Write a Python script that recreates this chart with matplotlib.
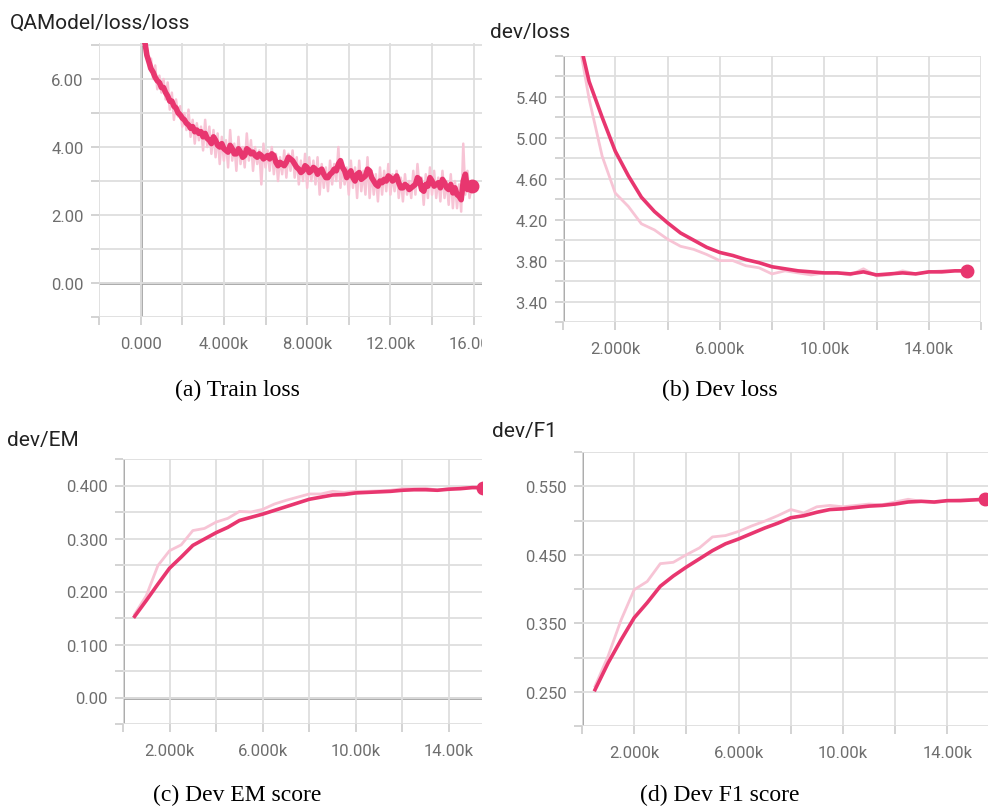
import numpy as np
from matplotlib import pyplot as plt
from matplotlib.transforms import Bbox, TransformedBbox

# ---- data ----
train_steps = list(range(200, 16000, 100))
train_raw = [7.2, 6.9, 6.3, 6.6, 6.0, 6.4, 5.7, 6.1, 5.6, 6.0,
             5.4, 5.9, 5.1, 5.6, 4.8, 5.4, 4.9, 5.2, 4.6, 5.0,
             4.5, 5.1, 4.3, 4.8, 4.1, 4.7, 4.2, 4.6, 3.9, 4.8,
             4.0, 4.6, 3.8, 4.5, 3.7, 4.4, 3.5, 4.3, 3.6, 4.2,
             3.4, 4.5, 3.6, 4.1, 3.3, 4.3, 3.5, 4.0, 3.4, 4.4,
             3.6, 4.2, 3.3, 4.0, 3.5, 3.9, 2.9, 4.1, 3.4, 3.9,
             3.3, 4.0, 3.2, 3.8, 3.0, 3.7, 3.2, 3.9, 3.1, 3.8,
             3.3, 3.9, 3.1, 3.7, 2.9, 3.6, 3.0, 3.8, 2.8, 3.7,
             3.0, 3.6, 2.9, 3.7, 2.6, 3.5, 2.8, 3.4, 2.7, 3.6,
             2.9, 3.5, 3.0, 4.0, 2.8, 3.5, 2.9, 3.4, 2.6, 3.6,
             2.8, 3.4, 2.5, 3.6, 2.7, 3.3, 2.6, 3.7, 2.5, 3.3,
             2.6, 3.2, 2.4, 3.4, 2.6, 3.3, 2.7, 3.5, 2.6, 3.2,
             2.7, 3.3, 2.5, 3.1, 2.4, 3.2, 2.6, 3.0, 2.5, 3.3,
             2.6, 3.5, 2.8, 3.1, 2.3, 3.2, 2.5, 3.4, 2.6, 3.3,
             2.5, 3.1, 2.4, 3.3, 2.5, 3.0, 2.3, 3.2, 2.2, 3.0,
             2.2, 2.9, 2.1, 4.1, 2.6, 3.3, 2.5, 2.85]
train_smooth = [7.1, 6.7, 6.5, 6.3, 6.2, 6.05, 5.95, 5.9, 5.75, 5.75,
                5.6, 5.5, 5.35, 5.35, 5.2, 5.15, 5.0, 4.95, 4.85, 4.8,
                4.7, 4.65, 4.55, 4.6, 4.45, 4.5, 4.4, 4.45, 4.3, 4.4,
                4.25, 4.2, 4.1, 4.3, 4.2, 4.05, 4.0, 4.1, 3.95, 3.9,
                3.85, 4.05, 3.95, 3.8, 3.8, 3.95, 3.85, 3.7, 3.75, 3.95,
                3.9, 3.8, 3.85, 3.75, 3.7, 3.8, 3.75, 3.65, 3.7, 3.75,
                3.65, 3.8, 3.75, 3.55, 3.45, 3.55, 3.5, 3.45, 3.55, 3.7,
                3.65, 3.6, 3.5, 3.4, 3.35, 3.25, 3.3, 3.45, 3.4, 3.25,
                3.3, 3.4, 3.35, 3.2, 3.3, 3.35, 3.2, 3.1, 3.1, 3.2,
                3.25, 3.35, 3.3, 3.5, 3.6, 3.4, 3.3, 3.1, 3.2, 3.3,
                3.1, 3.0, 3.2, 3.25, 3.05, 3.1, 3.15, 3.35, 3.3, 3.1,
                3.0, 2.9, 2.85, 3.0, 2.95, 3.05, 3.0, 3.15, 3.1, 3.0,
                3.05, 3.15, 2.95, 2.8, 2.8, 2.9, 2.85, 2.75, 2.8, 2.85,
                2.9, 3.1, 3.05, 2.75, 2.7, 2.9, 2.85, 3.1, 3.0, 2.85,
                2.9, 2.95, 2.8, 3.05, 2.95, 2.8, 2.75, 2.9, 2.65, 2.8,
                2.6, 2.55, 2.45, 3.0, 3.2, 2.75, 2.9, 2.85]

dev_steps = list(range(500, 15500, 500)) + [15450]

dev_loss_raw = [6.1, 5.38, 4.82, 4.46, 4.33, 4.16, 4.10, 4.01, 3.94, 3.91,
                3.86, 3.80, 3.80, 3.75, 3.73, 3.67, 3.70, 3.68, 3.66, 3.68,
                3.68, 3.66, 3.72, 3.65, 3.66, 3.70, 3.67, 3.69, 3.70, 3.70, 3.70]
dev_loss = [6.1, 5.55, 5.20, 4.87, 4.63, 4.42, 4.28, 4.17, 4.07, 4.00,
            3.93, 3.88, 3.85, 3.81, 3.78, 3.74, 3.72, 3.70, 3.69, 3.68,
            3.68, 3.67, 3.69, 3.66, 3.67, 3.68, 3.67, 3.69, 3.69, 3.70, 3.70]

dev_em_raw = [0.157, 0.192, 0.249, 0.277, 0.288, 0.315, 0.319, 0.331, 0.338, 0.351,
              0.350, 0.355, 0.365, 0.372, 0.378, 0.384, 0.384, 0.389, 0.387, 0.389,
              0.389, 0.390, 0.391, 0.394, 0.394, 0.395, 0.391, 0.394, 0.396, 0.396, 0.396]
dev_em = [0.153, 0.183, 0.214, 0.244, 0.265, 0.287, 0.299, 0.311, 0.321, 0.334,
          0.340, 0.346, 0.353, 0.360, 0.367, 0.374, 0.378, 0.382, 0.383, 0.386,
          0.387, 0.388, 0.389, 0.391, 0.392, 0.392, 0.391, 0.393, 0.394, 0.396, 0.396]

dev_f1_raw = [0.258, 0.302, 0.355, 0.399, 0.411, 0.437, 0.439, 0.450, 0.460, 0.476,
              0.478, 0.484, 0.492, 0.499, 0.507, 0.516, 0.511, 0.520, 0.522, 0.520,
              0.522, 0.524, 0.523, 0.527, 0.531, 0.528, 0.526, 0.529, 0.530, 0.531, 0.531]
dev_f1 = [0.253, 0.292, 0.326, 0.358, 0.380, 0.404, 0.419, 0.432, 0.444, 0.456,
          0.466, 0.473, 0.481, 0.489, 0.496, 0.504, 0.507, 0.512, 0.516, 0.517,
          0.519, 0.521, 0.522, 0.524, 0.527, 0.528, 0.527, 0.529, 0.529, 0.530, 0.531]

W, H = 988, 812
DARK = '#e8366f'
LIGHT = '#f7c4d5'
GRID = '#dedede'
AXIS = '#a3a3a3'
TICKLAB = '#6e6e6e'

fig = plt.figure(figsize=(W / 100, H / 100), dpi=100)


def panel(l, t, r, b):
    ax = fig.add_axes([l / W, 1 - b / H, (r - l) / W, (b - t) / H])
    for s in ax.spines.values():
        s.set_visible(False)
    ax.grid(True, color=GRID, lw=1.3, zorder=0)
    ax.tick_params(color='#d0d0d0', width=1.3, length=6, labelcolor=TICKLAB,
                   labelsize=12)
    ax.tick_params(axis='x', pad=8)
    ax.tick_params(axis='y', pad=5)
    return ax


def set_ticks(ax, xt, xl, yt, yl):
    ax.set_xticks(xt)
    ax.set_xticklabels(xl, family='Roboto')
    ax.set_yticks(yt)
    ax.set_yticklabels(yl, family='Roboto')


def title(x, y, s):
    fig.text(x / W, 1 - y / H, s, family='Roboto', fontsize=15, color='#222222',
             va='baseline')


def caption(x, y, s):
    fig.text(x / W, 1 - y / H, s, family='Liberation Serif', fontsize=17,
             color='black', ha='center', va='center')


# (a) train loss
ax = panel(99, 44, 482, 318)
ax.plot(train_steps, train_raw, color=LIGHT, lw=1.8, zorder=2)
ax.plot(train_steps, train_smooth, color=DARK, lw=4, zorder=3)
ax.plot(train_steps[-1], train_smooth[-1], 'o', color=DARK, ms=9, zorder=4)
ax.axvline(0, color=AXIS, lw=2, zorder=1)
ax.axhline(0, color=AXIS, lw=2, zorder=1)
ax.set_xlim(-2000, 16400)
ax.set_ylim(-1, 7.06)
set_ticks(ax, range(-2000, 16001, 2000),
          ['', '0.000', '', '4.000k', '', '8.000k', '', '12.00k', '', '16.00k'],
          range(-1, 8), ['', '0.00', '', '2.00', '', '4.00', '', '6.00', ''])
clip = TransformedBbox(Bbox([[0, 0], [482 / W, 1]]), fig.transFigure)
for lbl in ax.get_xticklabels():
    lbl.set_clip_on(True)
    lbl.set_clip_box(clip)

# (b) dev loss
ax = panel(563, 57, 981, 323)
ax.plot(dev_steps, dev_loss_raw, color=LIGHT, lw=2, zorder=2)
ax.plot(dev_steps, dev_loss, color=DARK, lw=2.6, zorder=3)
ax.plot(dev_steps[-1], dev_loss[-1], 'o', color=DARK, ms=9, zorder=4)
ax.axvline(0, color=AXIS, lw=2, zorder=1)
ax.set_xlim(0, 16000)
ax.set_ylim(3.2, 5.8)
yt = np.round(np.arange(3.2, 5.81, 0.2), 2)
set_ticks(ax, range(0, 16001, 2000),
          ['', '2.000k', '', '6.000k', '', '10.00k', '', '14.00k', ''],
          yt, ['%.2f' % v if i % 2 == 1 and v < 5.7 else '' for i, v in enumerate(yt)])

# (c) dev EM
ax = panel(123, 460, 482, 725)
ax.plot(dev_steps, dev_em_raw, color=LIGHT, lw=2, zorder=2)
ax.plot(dev_steps, dev_em, color=DARK, lw=2.6, zorder=3)
ax.plot(dev_steps[-1], dev_em[-1], 'o', color=DARK, ms=9, zorder=4)
ax.axvline(0, color=AXIS, lw=2, zorder=1)
ax.axhline(0, color=AXIS, lw=2, zorder=1)
ax.set_xlim(0, 15420)
ax.set_ylim(-0.05, 0.45)
yt = np.round(np.arange(-0.05, 0.451, 0.05), 3)
ylab = {0.0: '0.00', 0.1: '0.100', 0.2: '0.200', 0.3: '0.300', 0.4: '0.400'}
set_ticks(ax, range(0, 15001, 2000),
          ['', '2.000k', '', '6.000k', '', '10.00k', '', '14.00k'],
          yt, [ylab.get(round(v, 2), '') for v in yt])

# (d) dev F1
ax = panel(582, 453, 988, 727)
ax.plot(dev_steps, dev_f1_raw, color=LIGHT, lw=2, zorder=2)
ax.plot(dev_steps, dev_f1, color=DARK, lw=2.6, zorder=3)
ax.plot(dev_steps[-1], dev_f1[-1], 'o', color=DARK, ms=9, zorder=4)
ax.axvline(0, color=AXIS, lw=2, zorder=1)
ax.set_xlim(0, 15560)
ax.set_ylim(0.2, 0.6)
yt = np.round(np.arange(0.2, 0.601, 0.05), 3)
set_ticks(ax, range(0, 15001, 2000),
          ['', '2.000k', '', '6.000k', '', '10.00k', '', '14.00k'],
          yt, ['%.3f' % v if round(v * 20) % 2 == 1 else '' for v in yt])

title(10, 29, 'QAModel/loss/loss')
title(490, 38, 'dev/loss')
title(7, 446, 'dev/EM')
title(492, 437, 'dev/F1')

caption(237, 390, '(a) Train loss')
caption(720, 390, '(b) Dev loss')
caption(237, 795, '(c) Dev EM score')
caption(720, 795, '(d) Dev F1 score')

fig.savefig('out.png', dpi=100, facecolor='white')
